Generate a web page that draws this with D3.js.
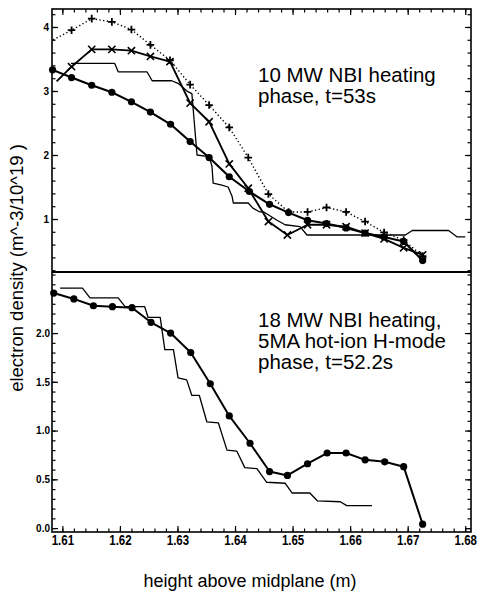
<!DOCTYPE html>
<html><head><meta charset="utf-8">
<script src="https://cdn.jsdelivr.net/npm/d3@7"></script>
<style>body{margin:0;background:#fff}</style>
</head><body>
<svg id="c" width="478" height="592"></svg>
<script>
// ---- data ----
const xTicks = [1.61,1.62,1.63,1.64,1.65,1.66,1.67,1.68];
const yTicksTop = [1,2,3,4];
const yTicksBot = [0.0,0.5,1.0,1.5,2.0];

// top panel (t=53s)
const topCircX = [1.6083,1.6116,1.6151,1.6186,1.6220,1.6253,1.6288,1.6322,1.6355,1.6390,1.6425,1.6460,1.6493,1.6526,1.6559,1.6593,1.6626,1.6659,1.6693,1.6726];
const topCircY = [3.33,3.21,3.09,2.98,2.83,2.67,2.48,2.21,1.96,1.66,1.43,1.23,1.10,0.98,0.93,0.86,0.78,0.72,0.65,0.35];

const topCrossX = [1.6090,1.6116,1.6151,1.6186,1.6220,1.6253,1.6287,1.6322,1.6355,1.6390,1.6423,1.6458,1.6491,1.6526,1.6559,1.6593,1.6626,1.6659,1.6693,1.6726];
const topCrossY = [3.15,3.38,3.65,3.65,3.63,3.54,3.46,2.81,2.52,1.86,1.48,0.96,0.75,0.91,0.91,0.88,0.78,0.69,0.55,0.44];

const topPlusX = [1.6084,1.6116,1.6151,1.6186,1.6220,1.6253,1.6287,1.6322,1.6355,1.6390,1.6423,1.6458,1.6493,1.6526,1.6559,1.6593,1.6626,1.6659,1.6693,1.6726];
const topPlusY = [3.80,3.95,4.13,4.08,3.96,3.72,3.48,3.10,2.78,2.43,1.96,1.39,1.11,1.11,1.18,1.11,0.96,0.79,0.67,0.42];

const topThinX = [1.6115,1.6191,1.6197,1.6247,1.6256,1.6290,1.6301,1.6318,1.6325,1.6334,1.6351,1.6357,1.6360,1.6362,1.6377,1.6388,1.6395,1.6397,1.6423,1.6431,1.6443,1.6450,1.6473,1.6487,1.6513,1.6525,1.6696,1.6708,1.6771,1.6786,1.6800];
const topThinY = [3.43,3.43,3.30,3.30,3.16,3.16,3.12,2.99,2.96,2.00,1.98,1.92,1.82,1.56,1.53,1.50,1.35,1.25,1.25,1.17,1.11,1.11,0.98,0.91,0.88,0.75,0.75,0.82,0.82,0.72,0.72];

// bottom panel (t=52.2s)
const botCircX = [1.6085,1.6120,1.6154,1.6187,1.6221,1.6254,1.6288,1.6323,1.6357,1.6390,1.6426,1.6460,1.6491,1.6526,1.6560,1.6593,1.6626,1.6660,1.6693,1.6726];
const botCircY = [2.41,2.35,2.28,2.27,2.26,2.11,2.00,1.80,1.48,1.15,0.87,0.58,0.54,0.66,0.77,0.77,0.70,0.68,0.63,0.04];

const botThinX = [1.6096,1.6135,1.6148,1.6197,1.6209,1.6243,1.6249,1.6270,1.6278,1.6293,1.6301,1.6316,1.6325,1.6338,1.6351,1.6371,1.6386,1.6403,1.6417,1.6438,1.6455,1.6487,1.6499,1.6530,1.6543,1.6583,1.6594,1.6638];
const botThinY = [2.46,2.46,2.36,2.36,2.27,2.27,2.16,2.16,1.83,1.83,1.54,1.52,1.36,1.36,1.09,1.08,0.80,0.79,0.62,0.61,0.47,0.46,0.36,0.36,0.28,0.27,0.23,0.23];

const topText = ["10 MW NBI heating","phase, t=53s"];
const botText = ["18 MW NBI heating,","5MA hot-ion H-mode","phase, t=52.2s"];
const xLabel = "height above midplane (m)";
const yLabel = "electron density (m^-3/10^19 )";

// ---- layout ----
const L = 52, R = 471, T = 9, M = 272, B = 532;
const svg = d3.select("#c");
const x = d3.scaleLinear().domain([1.6082, 1.6810]).range([L, R]);
const yT = d3.scaleLinear().domain([0.172, 4.281]).range([M, T]);
const yB = d3.scaleLinear().domain([-0.04, 2.626]).range([B, M]);

const zip = (a,b) => a.map((v,i)=>[v,b[i]]);
const range = (a,b,s) => { const r=[]; for(let v=a; v<=b+1e-9; v+=s) r.push(+v.toFixed(4)); return r; };

function axisG(axis, tx, ty){
  const g = svg.append("g").attr("transform",`translate(${tx},${ty})`).call(axis);
  g.select(".domain").remove();
  g.selectAll("line").attr("stroke","#000").attr("stroke-width",1.2);
  return g;
}
const xMinor = range(1.608,1.681,0.002).filter(v=>v>=1.6082 && v<=1.681);
const yTopMinor = range(0.2,4.2,0.2);
const yBotMinor = range(0,2.6,0.1);

// top panel axes
axisG(d3.axisTop(x).tickValues(xTicks).tickSize(-6).tickFormat(""),0,T);
axisG(d3.axisTop(x).tickValues(xMinor).tickSize(-3.5).tickFormat(""),0,T);
const gyl = axisG(d3.axisLeft(yT).tickValues(yTicksTop).tickSize(-6).tickPadding(3).tickFormat(d3.format("d")),L,0);
axisG(d3.axisLeft(yT).tickValues(yTopMinor).tickSize(-3.5).tickFormat(""),L,0);
axisG(d3.axisRight(yT).tickValues(yTicksTop).tickSize(-6).tickFormat(""),R,0);
axisG(d3.axisRight(yT).tickValues(yTopMinor).tickSize(-3.5).tickFormat(""),R,0);

// bottom panel axes
const gxb = axisG(d3.axisBottom(x).tickValues(xTicks).tickSize(-6).tickPadding(3).tickFormat(d3.format(".2f")),0,B);
axisG(d3.axisBottom(x).tickValues(xMinor).tickSize(-3.5).tickFormat(""),0,B);
const gybl = axisG(d3.axisLeft(yB).tickValues(yTicksBot).tickSize(-6).tickPadding(2).tickFormat(d3.format(".1f")),L,0);
axisG(d3.axisLeft(yB).tickValues(yBotMinor).tickSize(-3.5).tickFormat(""),L,0);
axisG(d3.axisRight(yB).tickValues(yTicksBot).tickSize(-6).tickFormat(""),R,0);
axisG(d3.axisRight(yB).tickValues(yBotMinor).tickSize(-3.5).tickFormat(""),R,0);

[gyl,gybl].forEach(g=>g.selectAll("text").attr("font-family","Liberation Sans, Arial, sans-serif")
  .attr("font-weight","bold").attr("font-size",10).attr("fill","#000"));
gxb.selectAll("text").attr("font-family","Liberation Sans, Arial, sans-serif")
  .attr("font-weight","bold").attr("font-size",14).attr("fill","#000")
  .attr("transform","scale(0.82,1)");

// frame
svg.append("rect").attr("x",L).attr("y",T).attr("width",R-L).attr("height",B-T)
  .attr("fill","none").attr("stroke","#000").attr("stroke-width",1.6);
svg.append("line").attr("x1",L).attr("x2",R).attr("y1",M).attr("y2",M)
  .attr("stroke","#000").attr("stroke-width",2);

// clip
svg.append("clipPath").attr("id","clipT").append("rect").attr("x",L).attr("y",T).attr("width",R-L).attr("height",M-T);
svg.append("clipPath").attr("id","clipB").append("rect").attr("x",L).attr("y",M).attr("width",R-L).attr("height",B-M);

function drawLine(xs, ys, ys2, opts){
  const line = d3.line().x(d=>x(d[0])).y(d=>ys2(d[1]));
  svg.append("path").attr("d", line(zip(xs,ys))).attr("fill","none")
    .attr("stroke","#000").attr("stroke-width",opts.w)
    .attr("stroke-dasharray",opts.dash||null).attr("stroke-linejoin","round")
    .attr("clip-path",opts.clip);
}
function circles(xs, ys, ysc, r){
  svg.append("g").selectAll("circle").data(zip(xs,ys)).join("circle")
    .attr("cx",d=>x(d[0])).attr("cy",d=>ysc(d[1])).attr("r",r).attr("fill","#000");
}
function crosses(xs, ys, ysc, s, skipFirst){
  const pts = zip(xs,ys).slice(skipFirst?1:0);
  svg.append("g").selectAll("path").data(pts).join("path")
    .attr("d",d=>{const cx=x(d[0]), cy=ysc(d[1]);
      return `M${cx-s},${cy-s}L${cx+s},${cy+s}M${cx-s},${cy+s}L${cx+s},${cy-s}`;})
    .attr("stroke","#000").attr("stroke-width",1.6).attr("fill","none");
}
function pluses(xs, ys, ysc, s, skipFirst){
  const pts = zip(xs,ys).slice(skipFirst?1:0);
  svg.append("g").selectAll("path").data(pts).join("path")
    .attr("d",d=>{const cx=x(d[0]), cy=ysc(d[1]);
      return `M${cx-s},${cy}L${cx+s},${cy}M${cx},${cy-s}L${cx},${cy+s}`;})
    .attr("stroke","#000").attr("stroke-width",1.8).attr("fill","none");
}

// top panel series
drawLine(topThinX, topThinY, yT, {w:1.3, clip:"url(#clipT)"});
drawLine(topPlusX, topPlusY, yT, {w:1.4, dash:"1.3,2.4", clip:"url(#clipT)"});
drawLine(topCrossX, topCrossY, yT, {w:1.9, clip:"url(#clipT)"});
drawLine(topCircX, topCircY, yT, {w:2.1, clip:"url(#clipT)"});
pluses(topPlusX, topPlusY, yT, 3.8, true);
crosses(topCrossX, topCrossY, yT, 3.6, true);
circles(topCircX, topCircY, yT, 3.6);

// bottom panel series
drawLine(botThinX, botThinY, yB, {w:1.3, clip:"url(#clipB)"});
drawLine(botCircX, botCircY, yB, {w:2.0, clip:"url(#clipB)"});
circles(botCircX, botCircY, yB, 3.6);

// annotations
const fam = "Liberation Sans, Arial, sans-serif";
topText.forEach((t,i)=>svg.append("text").attr("x",258).attr("y",82+i*21)
  .attr("font-family",fam).attr("font-size",20.5).attr("fill","#000").text(t));
botText.forEach((t,i)=>svg.append("text").attr("x",258).attr("y",327+i*20.8)
  .attr("font-family",fam).attr("font-size",20.5).attr("fill","#000").text(t));

svg.append("text").attr("x",250).attr("y",587).attr("text-anchor","middle")
  .attr("font-family",fam).attr("font-size",18).attr("fill","#000").text(xLabel);
svg.append("text").attr("transform","translate(23,268) rotate(-90)").attr("text-anchor","middle")
  .attr("font-family",fam).attr("font-size",18.5).attr("fill","#000").text(yLabel);
</script>
</body></html>
